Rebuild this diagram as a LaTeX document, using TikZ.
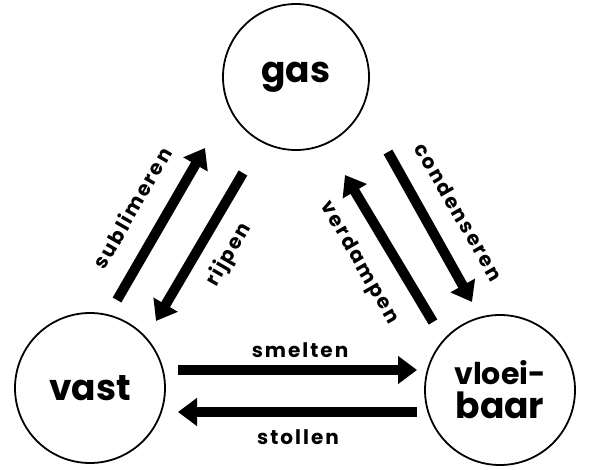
\documentclass[tikz,border=0pt]{standalone}
\usepackage{fontspec}
\setmainfont{Poppins}
\usetikzlibrary{arrows.meta}

\begin{document}
\begin{tikzpicture}[x=1pt, y=1pt,
    state/.style={draw, circle, line width=1.8pt, inner sep=0pt, align=center,
        font=\fontsize{36}{36}\selectfont\bfseries},
    flow/.style={line width=10pt, -{Triangle[length=19pt, width=27pt]}},
    flowlabel/.style={inner sep=0pt, font=\fontsize{20}{20}\selectfont\bfseries\addfontfeature{LetterSpace=10}}]

        \useasboundingbox (0,0) rectangle (593,469);

        % the three states
        \node[state, minimum size=146pt] (gas) at (296,392) {gas};
        \node[state, minimum size=150pt] (vast) at (90,81) {vast};
        \node[state, minimum size=150pt] (vloei) at (500,79) {\fontsize{30}{32}\selectfont vloei-\\[-2pt]baar};

        % arrow ends between vast and gas
        \coordinate (sub1) at (117,169);
        \coordinate (sub2) at (205,321);
        \coordinate (rij1) at (243,296);
        \coordinate (rij2) at (156,148);

        % arrow ends between gas and vloeibaar
        \coordinate (con1) at (388,317);
        \coordinate (con2) at (472,167);
        \coordinate (ver1) at (433,147);
        \coordinate (ver2) at (345,294);

        % arrow ends between vast and vloeibaar
        \coordinate (sme1) at (178,99);
        \coordinate (sme2) at (417,99);
        \coordinate (sto1) at (417,57);
        \coordinate (sto2) at (178,57);

        % Draw transitions
        \draw[flow] (sub1) -- (sub2);
        \draw[flow] (rij1) -- (rij2);
        \draw[flow] (con1) -- (con2);
        \draw[flow] (ver1) -- (ver2);
        \draw[flow] (sme1) -- (sme2);
        \draw[flow] (sto1) -- (sto2);

        % labels of the transitions
        \node[flowlabel, rotate=60] (lsub) at (132,261) {sublimeren};
        \node[flowlabel, rotate=60] (lrij) at (229,214) {rijpen};
        \node[flowlabel, rotate=-60] (lcon) at (459,257) {condenseren};
        \node[flowlabel, rotate=-60] (lver) at (359,206) {verdampen};
        \node[flowlabel] (lsme) at (300,119) {smelten};
        \node[flowlabel] (lsto) at (298,32) {stollen};

\end{tikzpicture}
\end{document}
